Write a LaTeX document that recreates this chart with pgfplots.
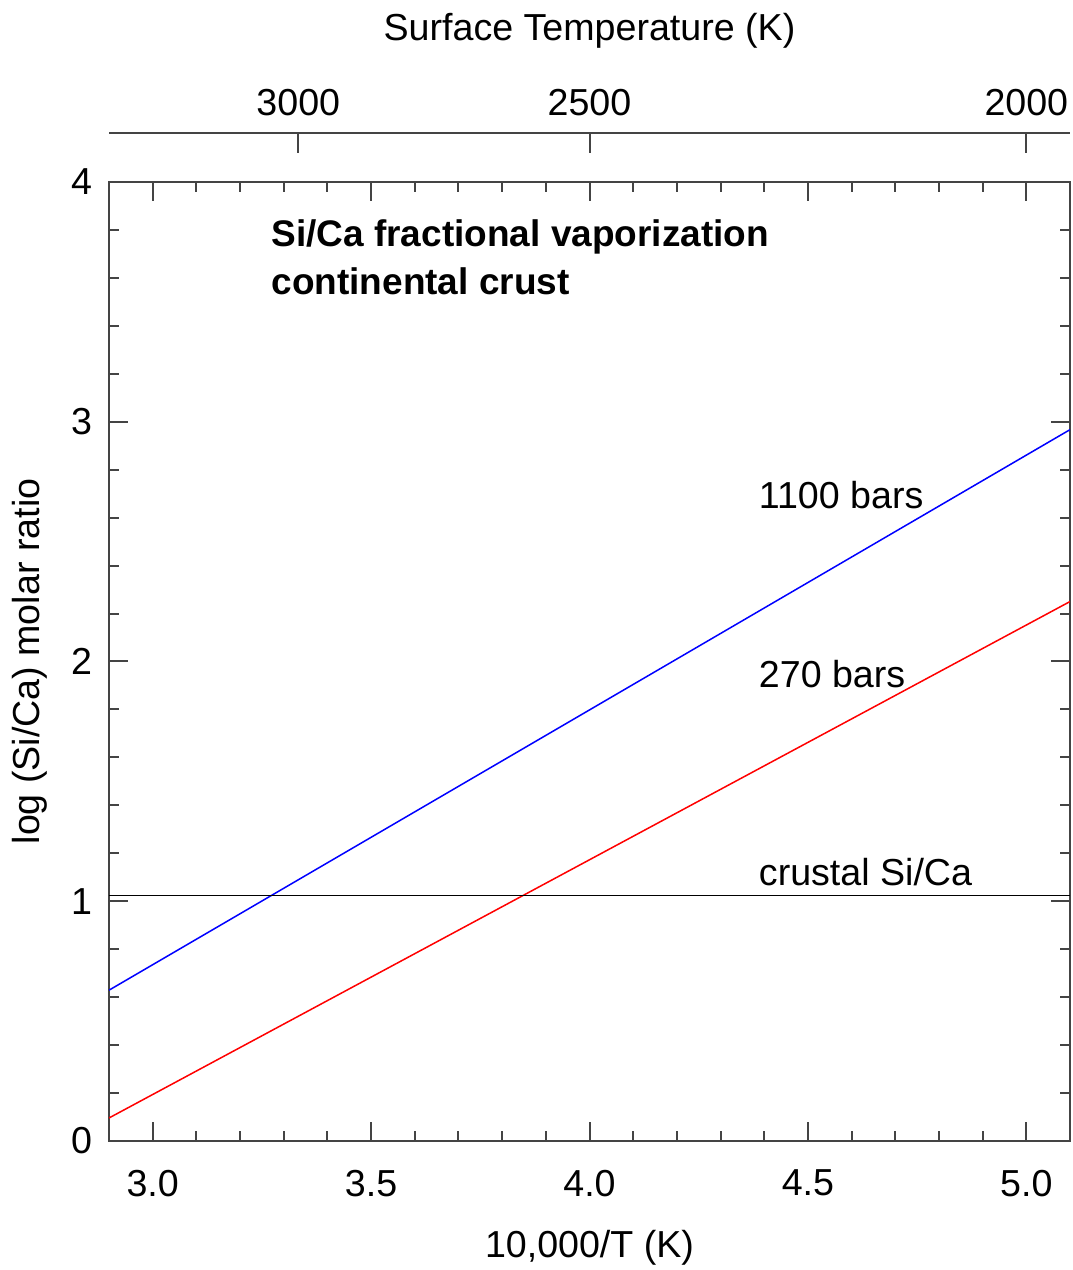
\documentclass[border=0pt]{standalone}
\usepackage{pgfplots}
\pgfplotsset{compat=1.18}
\usepackage{fontspec}
\setmainfont{Liberation Sans}
\definecolor{axgray}{HTML}{444444}
\begin{document}
\fontsize{18.8pt}{22pt}\selectfont
\begin{tikzpicture}
\begin{axis}[
  name=main,
  at={(0,0)}, anchor=south west,
  width=480.5pt, height=479.5pt, scale only axis,
  xmin=2.9, xmax=5.1, ymin=0, ymax=4,
  xtick={3,3.5,4,4.5,5}, minor x tick num=4,
  ytick={0,1,2,3,4}, minor y tick num=4,
  xticklabel style={/pgf/number format/.cd, fixed, fixed zerofill, precision=1},
  /pgf/number format/assume math mode=true,
  tick align=inside,
  major tick length=9.5pt, minor tick length=5pt,
  axis line style={axgray, line width=1pt},
  every tick/.style={axgray, line width=1pt},
  tick label style={font=\fontsize{18.8pt}{22pt}\selectfont, text=black},
  label style={font=\fontsize{18.8pt}{22pt}\selectfont},
  xlabel={10,000/T (K)},
  ylabel={log (Si/Ca) molar ratio},
  xticklabel shift=8pt,
  yticklabel shift=2pt,
  xlabel shift=4pt,
  ylabel shift=-0.75pt,
  clip=true,
]
\addplot[blue, line width=0.75pt] coordinates {(2.9,0.629) (5.1,2.967)};
\addplot[red, line width=0.75pt] coordinates {(2.9,0.096) (5.1,2.250)};
\addplot[black, line width=0.75pt] coordinates {(2.9,1.025) (5.1,1.025)};
\node[anchor=base west, inner sep=0pt, font=\fontsize{18.8pt}{22pt}\selectfont] at (axis cs:4.387,2.64) {1100 bars};
\node[anchor=base west, inner sep=0pt, font=\fontsize{18.8pt}{22pt}\selectfont] at (axis cs:4.387,1.89) {270 bars};
\node[anchor=base west, inner sep=0pt, font=\fontsize{18.8pt}{22pt}\selectfont] at (axis cs:4.387,1.067) {crustal Si/Ca};
\node[anchor=base west, inner sep=0pt, font=\fontsize{18.5pt}{24pt}\selectfont\bfseries] at (axis cs:3.271,3.73) {Si/Ca fractional vaporization};
\node[anchor=base west, inner sep=0pt, font=\fontsize{18.5pt}{24pt}\selectfont\bfseries] at (axis cs:3.271,3.53) {continental crust};
\end{axis}
\begin{axis}[
  at={(0,479.5pt)}, anchor=south west,
  width=480.5pt, height=24.5pt, scale only axis,
  xmin=2.9, xmax=5.1, ymin=0, ymax=1,
  axis x line*=top, hide y axis,
  xtick={3.33333,4,5}, xticklabels={3000,2500,2000},
  minor xtick={},
  tick align=inside,
  major tick length=10pt,
  axis line style={axgray, line width=1pt, -},
  every tick/.style={axgray, line width=1pt},
  tick label style={font=\fontsize{18.8pt}{22pt}\selectfont, text=black},
  label style={font=\fontsize{18.8pt}{22pt}\selectfont},
  xlabel={Surface Temperature (K)},
  xticklabel shift=2pt,
  xlabel shift=8pt,
]
\addplot[draw=none] coordinates {(3,0.5)};
\end{axis}
\pgfresetboundingbox
\path[use as bounding box] (-54.5pt,-64.5pt) rectangle (481.5pt,570.5pt);
\end{tikzpicture}
\end{document}
